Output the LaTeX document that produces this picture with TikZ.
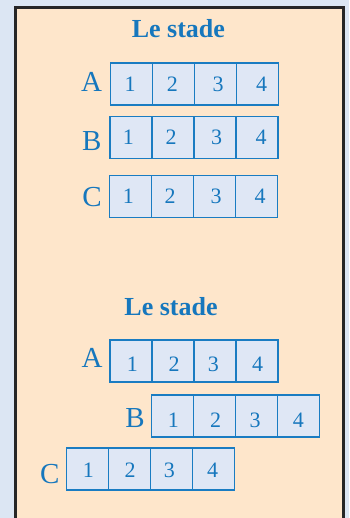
\documentclass[tikz,border=0pt]{standalone}
\usepackage{fontspec}
\setmainfont{Liberation Serif}
\definecolor{bgblue}{HTML}{DCE6F3}
\definecolor{peach}{HTML}{FEE6CB}
\definecolor{framecol}{HTML}{262626}
\definecolor{tblue}{HTML}{1677BD}
\definecolor{cellfill}{HTML}{DFE7F5}
\definecolor{cellline}{HTML}{1A7CC2}
\begin{document}
\begin{tikzpicture}[x=1pt,y=-1pt,
  cell/.style={draw=cellline, fill=cellfill, line width=1.3pt, minimum width=42pt, minimum height=42pt, inner sep=0pt, anchor=north west},
  digit/.style={text=tblue, font=\fontsize{22}{22}\selectfont, anchor=base, inner sep=0pt},
  rowlabel/.style={text=tblue, font=\fontsize{29}{29}\selectfont, anchor=base, inner sep=0pt},
  titletext/.style={text=tblue, font=\bfseries\fontsize{26}{26}\selectfont, anchor=base, inner sep=0pt}]
\useasboundingbox (0,0) rectangle (349,518);
\clip (0,0) rectangle (349,518);
\fill[bgblue] (0,0) rectangle (349,518);
\fill[peach] (15.3,7.5) rectangle (343.8,530);
\draw[framecol, line width=3pt] (15.3,530) -- (15.3,7.5) -- (343.8,7.5) -- (343.8,530);
% top part
\node[titletext] (t1) at (178.4,37.3) {Le stade};
\node[rowlabel] (tA) at (91.7,91.7) {A};
\node[rowlabel] (tB) at (91.7,151) {B};
\node[rowlabel] (tC) at (92,207) {C};
\foreach \i in {1,...,4} {
  \node[cell] (tA\i) at ({110+42*(\i-1)},62.3) {};
  \node[cell] (tB\i) at ({109.3+42*(\i-1)},116) {};
  \node[cell] (tC\i) at ({108.7+42*(\i-1)},175) {};
}
\foreach \i/\x in {1/130,2/172.3,3/218,4/261.7} \node[digit] (tAd\i) at (\x,91.7) {\i};
\foreach \i/\x in {1/128.3,2/171,3/216.7,4/261} \node[digit] (tBd\i) at (\x,145) {\i};
\foreach \i/\x in {1/128.3,2/170,3/216,4/260} \node[digit] (tCd\i) at (\x,203.3) {\i};
% bottom part
\node[titletext] (t2) at (171,315) {Le stade};
\node[rowlabel] (bA) at (92,367.3) {A};
\node[rowlabel] (bB) at (135,427.3) {B};
\node[rowlabel] (bC) at (49.7,483) {C};
\foreach \i in {1,...,4} {
  \node[cell] (bA\i) at ({109.3+42*(\i-1)},339.3) {};
  \node[cell] (bB\i) at ({151+42*(\i-1)},394.3) {};
  \node[cell] (bC\i) at ({65.7+42*(\i-1)},447.3) {};
}
\foreach \i/\x in {1/132.3,2/174,3/213.3,4/257.7} \node[digit] (bAd\i) at (\x,371.7) {\i};
\foreach \i/\x in {1/173.3,2/215.7,3/255,4/298.3} \node[digit] (bBd\i) at (\x,427.7) {\i};
\foreach \i/\x in {1/88.3,2/130,3/169.3,4/212.7} \node[digit] (bCd\i) at (\x,477.3) {\i};
\end{tikzpicture}
\end{document}
